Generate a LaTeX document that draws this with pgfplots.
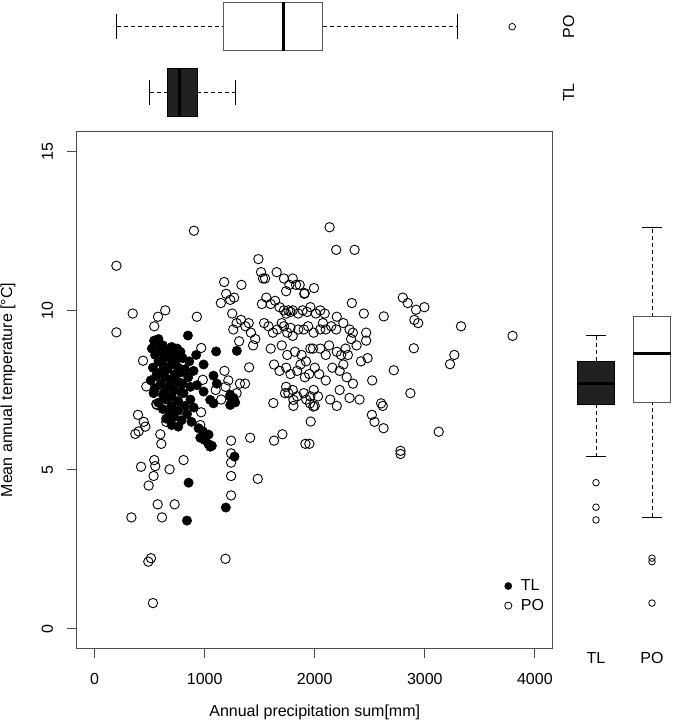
\documentclass[border=0pt]{standalone}
\usepackage{pgfplots}
\usepackage{pgfplotstable}
\pgfplotsset{compat=1.18}
\usepackage{fontspec}
\setmainfont{Liberation Sans}
\newcommand{\fsz}{\fontsize{16}{19}\selectfont}

\pgfplotstableread{
x y
848 9.21
540 9.05
580 9.1
560 8.95
620 8.9
700 8.85
750 8.8
520 8.8
600 8.7
660 8.75
720 8.65
780 8.7
923 8.6
1104 8.71
1292 8.73
550 8.6
640 8.55
690 8.5
740 8.45
800 8.5
860 8.4
580 8.4
620 8.3
700 8.3
990 8.3
760 8.2
530 8.2
660 8.15
899 8.1
820 8.15
600 8.05
730 8.0
780 8.05
1080 7.95
560 7.95
640 7.9
850 7.9
700 7.85
510 7.8
1110 7.7
760 7.75
600 7.7
680 7.65
800 7.7
870 7.6
930 7.65
550 7.55
640 7.5
720 7.5
780 7.45
990 7.45
536 7.4
620 7.35
700 7.3
808 7.4
1232 7.35
1262 7.25
1232 7.29
1277 7.11
1232 7.03
650 7.2
760 7.15
870 7.2
1050 7.19
1080 7.08
580 7.1
700 7.0
820 7.0
900 6.95
620 6.9
760 6.85
680 6.8
840 6.75
720 6.65
650 6.6
790 6.55
880 6.5
700 6.4
760 6.35
944 6.3
985 6.2
1035 6.1
960 6.0
1000 5.93
1035 5.8
1065 5.75
1050 5.72
1271 5.41
854 4.59
839 3.40
1192 3.81
}\tlData

\pgfplotstableread{
x y
198 11.4
198 9.31
346 9.9
642 10.0
576 9.8
542 9.5
929 9.8
902 12.5
440 8.42
470 7.61
969 8.82
983 7.82
560 7.06
394 6.72
446 6.5
461 6.35
400 6.2
370 6.12
597 6.11
606 5.81
542 5.3
551 5.11
422 5.09
536 4.8
491 4.5
681 5.01
808 5.3
968 6.8
960 6.4
567 7.03
651 6.5
573 3.91
727 3.91
334 3.5
612 3.5
512 2.22
488 2.11
530 0.81
1189 2.2
1240 5.91
1240 5.51
1240 5.22
1240 4.8
1240 4.19
1413 6.0
1482 4.71
1177 10.89
1334 10.8
1195 10.52
1232 10.33
1268 10.4
1147 10.23
1488 11.61
1512 11.2
1530 11.0
1549 11.0
1313 9.03
1404 8.21
1180 8.1
1215 7.8
1320 7.7
1367 7.7
1250 9.9
1290 9.6
1330 9.7
1370 9.5
1400 9.6
1420 9.3
1460 9.1
1440 8.9
1260 9.4
1190 7.6
1150 7.2
1290 7.4
1100 7.5
1654 11.2
1720 11.0
1800 11.0
1830 10.8
1770 10.8
1740 10.6
1905 10.52
1993 10.7
1863 10.8
1908 10.54
1520 10.2
1560 10.4
1600 10.2
1640 10.3
1680 10.1
1720 10.0
1740 9.9
1760 10.0
1780 9.95
1800 10.0
1850 9.9
1890 10.0
1930 9.95
1960 10.1
2010 9.9
2050 10.0
2090 9.9
1540 9.6
1580 9.5
1620 9.3
1660 9.4
1700 9.6
1720 9.5
1750 9.3
1780 9.45
1800 9.2
1850 9.4
1900 9.4
1940 9.5
1990 9.3
2074 9.6
2100 9.4
2150 9.5
2195 9.4
2050 9.4
1600 8.8
1700 8.9
1750 8.6
1820 8.7
1880 8.6
1920 8.4
1960 8.8
1984 8.8
2050 8.8
2100 8.6
2130 8.9
2200 8.7
2240 8.6
2280 8.8
2301 8.6
1630 8.3
1680 8.1
1740 8.2
1780 8.0
1840 8.1
1870 8.3
1910 7.9
1950 8.0
2000 8.2
2040 8.0
1740 7.6
1760 7.4
1800 7.5
1840 7.3
1900 7.4
1960 7.3
1990 7.5
1624 7.09
1730 7.4
1806 7.19
1806 7.0
1957 7.08
1987 6.98
1923 7.2
2030 7.3
2000 7.0
1630 5.91
1706 6.11
1915 5.81
1951 5.81
1963 6.51
2135 12.61
2195 11.9
2362 11.9
2800 10.4
2845 10.23
2920 10.02
2996 10.1
2905 9.7
2940 9.6
2337 10.23
2446 9.9
2627 9.81
3329 9.5
3797 9.2
2900 8.81
3268 8.6
3229 8.31
2718 8.12
2522 7.8
2226 8.1
2290 7.9
2347 7.7
2226 7.5
2869 7.4
2316 7.25
2407 7.2
2603 7.08
2618 7.0
2519 6.72
2543 6.5
2625 6.3
3126 6.19
2779 5.59
2779 5.49
2316 9.4
2346 9.3
2467 9.3
2467 9.05
2330 9.1
2200 9.8
2260 9.6
2380 8.9
2420 8.4
2480 8.5
2260 8.3
2160 8.2
2100 7.8
2140 7.2
2200 7.0
}\poData

\begin{document}
\begin{tikzpicture}
\path[use as bounding box] (0pt,0pt) rectangle (672pt,728pt);

% main scatter
\begin{axis}[
  at={(77pt,80pt)}, anchor=south west, scale only axis,
  width=475.5pt, height=516pt,
  xmin=-160, xmax=4160, ymin=-0.6, ymax=15.6,
  xtick={0,1000,2000,3000,4000}, xticklabels={0,1000,2000,3000,4000},
  ytick={0,5,10,15}, yticklabels={0,5,10,15},
  tick align=outside, major tick length=10pt,
  xtick pos=lower, ytick pos=left,
  axis line style={black!70, line width=1pt},
  tick style={black!70, line width=1pt},
  tick label style={font=\fsz},
  xticklabel style={anchor=base, yshift=-26pt},
  yticklabel style={xshift=-14pt, rotate=90, anchor=base},
  every axis x label/.style={at={(rel axis cs:0.5,0)}, anchor=center, yshift=-64pt, font=\fsz},
  every axis y label/.style={at={(rel axis cs:0,0.5)}, xshift=-69pt, rotate=90, anchor=center, font=\fsz},
  xlabel={Annual precipitation sum[mm]},
  ylabel={Mean annual temperature [°C]},
  legend style={draw=none, fill=none, at={(axis cs:4130,0.4)}, anchor=south east,
    font=\fsz, row sep=3pt, cells={anchor=west},
    /tikz/every odd column/.append style={column sep=7pt}},
  legend image code/.code={\draw[#1] plot coordinates {(0pt,0pt)};},
]
\addplot[only marks, mark=o, mark size=4.7pt, black, line width=0.9pt, forget plot] table[x=x,y=y] {\poData};
\addplot[only marks, mark=*, mark size=4.7pt, black, fill=black, line width=0.5pt, forget plot] table[x=x,y=y] {\tlData};
\addlegendimage{only marks, mark=*, mark size=3.6pt, black, fill=black}
\addlegendentry{TL}
\addlegendimage{only marks, mark=o, mark size=3.6pt, black, line width=0.8pt}
\addlegendentry{PO}
\end{axis}

% top boxplots
\begin{axis}[
  at={(77pt,603pt)}, anchor=south west, scale only axis,
  width=475.5pt, height=125pt,
  xmin=-160, xmax=4160, ymin=0.506, ymax=2.406,
  axis line style={draw=none}, xtick=\empty,
  ytick={1,2}, yticklabels={TL,PO}, yticklabel pos=right,
  major tick length=0pt, tick style={draw=none},
  yticklabel style={font=\fsz, xshift=16pt, rotate=90, anchor=center},
  clip=false,
]
\addplot[black, line width=1pt, dash pattern=on 4pt off 3pt, mark=none] coordinates {(503,1)(664,1)};
\addplot[black, line width=1pt, dash pattern=on 4pt off 3pt, mark=none] coordinates {(932,1)(1279,1)};
\addplot[black, line width=1pt, mark=none] coordinates {(503,0.81)(503,1.19)};
\addplot[black, line width=1pt, mark=none] coordinates {(1279,0.81)(1279,1.19)};
\addplot[draw=black, fill=black!87, line width=1pt, line join=miter, mark=none] coordinates {(664,0.632)(932,0.632)(932,1.368)(664,1.368)(664,0.632)};
\addplot[black, line width=3pt, mark=none] coordinates {(769,0.632)(769,1.368)};
\addplot[black, line width=1pt, dash pattern=on 4pt off 3pt, mark=none] coordinates {(201,2)(1167,2)};
\addplot[black, line width=1pt, dash pattern=on 4pt off 3pt, mark=none] coordinates {(2073,2)(3297,2)};
\addplot[black, line width=1pt, mark=none] coordinates {(201,1.81)(201,2.19)};
\addplot[black, line width=1pt, mark=none] coordinates {(3297,1.81)(3297,2.19)};
\addplot[draw=black!65, fill=white, line width=1pt, line join=miter, mark=none] coordinates {(1167,1.632)(2073,1.632)(2073,2.368)(1167,2.368)(1167,1.632)};
\addplot[black, line width=3pt, mark=none] coordinates {(1718,1.632)(1718,2.368)};
\addplot[only marks, mark=o, mark size=3.3pt, black, line width=0.8pt] coordinates {(3794,2)};
\end{axis}

% right boxplots
\begin{axis}[
  at={(562pt,80pt)}, anchor=south west, scale only axis,
  width=110pt, height=516pt,
  xmin=0.393, xmax=2.357, ymin=-0.6, ymax=15.6,
  axis line style={draw=none}, ytick=\empty,
  xtick={1,2}, xticklabels={TL,PO},
  major tick length=0pt, tick style={draw=none},
  xticklabel style={font=\fsz, anchor=center, yshift=-10pt},
  clip=false,
]
\addplot[black, line width=1pt, dash pattern=on 4pt off 3pt, mark=none] coordinates {(1,5.41)(1,7.05)};
\addplot[black, line width=1pt, dash pattern=on 4pt off 3pt, mark=none] coordinates {(1,8.41)(1,9.2)};
\addplot[black, line width=1pt, mark=none] coordinates {(0.83,5.41)(1.17,5.41)};
\addplot[black, line width=1pt, mark=none] coordinates {(0.83,9.2)(1.17,9.2)};
\addplot[draw=black, fill=black!87, line width=1pt, line join=miter, mark=none] coordinates {(0.665,7.05)(1.335,7.05)(1.335,8.41)(0.665,8.41)(0.665,7.05)};
\addplot[black, line width=3pt, mark=none] coordinates {(0.665,7.71)(1.335,7.71)};
\addplot[only marks, mark=o, mark size=3.3pt, black, line width=0.8pt] coordinates {(1,4.59)(1,3.82)(1,3.42)};
\addplot[black, line width=1pt, dash pattern=on 4pt off 3pt, mark=none] coordinates {(2,3.5)(2,7.1)};
\addplot[black, line width=1pt, dash pattern=on 4pt off 3pt, mark=none] coordinates {(2,9.8)(2,12.6)};
\addplot[black, line width=1pt, mark=none] coordinates {(1.83,3.5)(2.17,3.5)};
\addplot[black, line width=1pt, mark=none] coordinates {(1.83,12.6)(2.17,12.6)};
\addplot[draw=black!65, fill=white, line width=1pt, line join=miter, mark=none] coordinates {(1.665,7.1)(2.335,7.1)(2.335,9.8)(1.665,9.8)(1.665,7.1)};
\addplot[black, line width=3pt, mark=none] coordinates {(1.665,8.65)(2.335,8.65)};
\addplot[only marks, mark=o, mark size=3.3pt, black, line width=0.8pt] coordinates {(2,2.22)(2,2.11)(2,0.81)};
\end{axis}
\end{tikzpicture}
\end{document}
